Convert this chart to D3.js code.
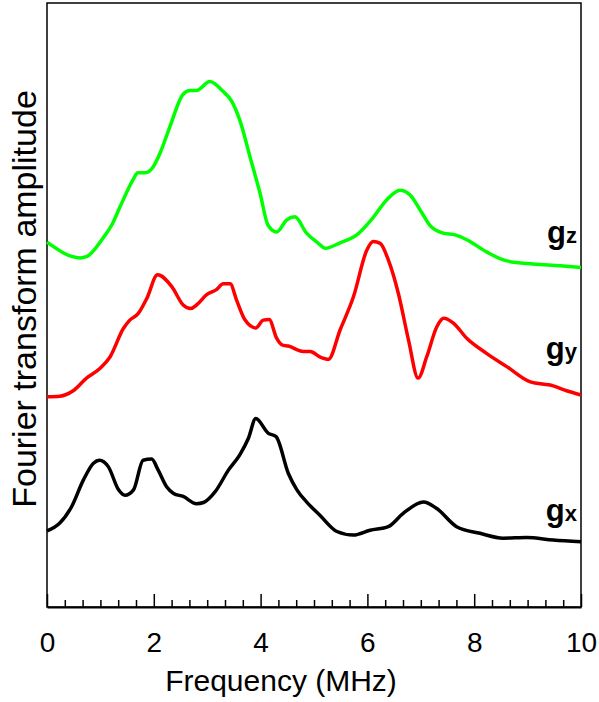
<!DOCTYPE html>
<html>
<head>
<meta charset="utf-8">
<script src="https://cdn.jsdelivr.net/npm/d3@7"></script>
<style>
  body { margin: 0; background: white; }
  svg { display: block; }
  text { font-family: "Liberation Sans", Arial, sans-serif; fill: black; }
</style>
</head>
<body>
<svg id="chart" width="599" height="702"></svg>
<script>
// frequency (MHz), amplitude (arb. units)
const gzData = [
  [0, 60.4], [0.62, 57.8], [0.74, 58.0], [1.05, 61.1], [1.21, 63.2], [1.37, 66.3],
  [1.61, 70.7], [1.70, 71.9], [1.84, 71.9], [1.99, 72.9], [2.12, 75.2], [2.30, 79.5],
  [2.55, 84.9], [2.68, 85.5], [2.80, 85.5], [3.05, 87.0], [3.27, 85.6], [3.46, 83.7],
  [3.61, 80.6], [3.80, 74.6], [3.99, 68.5], [4.14, 63.2], [4.30, 62.1], [4.49, 64.1],
  [4.64, 64.6], [4.86, 61.9], [5.07, 60.3], [5.21, 59.4], [5.49, 60.3], [5.80, 61.6],
  [6.10, 64.4], [6.36, 67.4], [6.61, 69.0], [6.80, 68.2], [6.99, 65.7], [7.17, 63.2],
  [7.42, 61.9], [7.64, 61.6], [7.86, 60.8], [8.23, 58.8], [8.61, 57.3], [9.10, 56.8],
  [9.61, 56.5], [10, 56.2]
];

const gyData = [
  [0, 34.8], [0.24, 34.9], [0.49, 35.8], [0.74, 37.9], [0.99, 39.5], [1.18, 41.4],
  [1.43, 46.1], [1.55, 47.5], [1.71, 48.6], [1.87, 51.1], [2.07, 55.0], [2.34, 53.0],
  [2.55, 50.0], [2.69, 49.4], [2.80, 50.0], [2.99, 51.7], [3.18, 52.6], [3.30, 53.5],
  [3.43, 53.5], [3.55, 50.8], [3.71, 47.5], [3.91, 46.2], [4.05, 47.5], [4.16, 47.6],
  [4.30, 44.5], [4.40, 43.4], [4.52, 43.2], [4.80, 42.3], [4.93, 42.3], [5.11, 41.4],
  [5.27, 41.0], [5.49, 45.9], [5.74, 51.4], [5.99, 59.1], [6.11, 60.5], [6.24, 60.2],
  [6.39, 57.5], [6.58, 51.9], [6.77, 44.2], [6.95, 37.9], [7.11, 41.4], [7.30, 46.4],
  [7.43, 47.8], [7.61, 47.0], [7.86, 44.5], [8.23, 42.0], [8.61, 39.8], [9.04, 37.3],
  [9.48, 36.6], [9.73, 35.8], [10, 35.1]
];

const gxData = [
  [0, 12.6], [0.24, 13.9], [0.46, 16.6], [0.68, 21.0], [0.87, 23.8], [0.98, 24.3],
  [1.15, 23.2], [1.34, 19.4], [1.46, 18.5], [1.62, 19.4], [1.80, 24.3], [1.96, 24.5],
  [2.08, 22.7], [2.24, 19.9], [2.37, 18.8], [2.55, 18.3], [2.80, 17.1], [2.93, 17.3],
  [3.15, 19.1], [3.40, 22.7], [3.61, 25.2], [3.77, 27.9], [3.91, 31.2], [4.14, 28.8],
  [4.29, 28.2], [4.52, 22.1], [4.68, 19.4], [4.86, 17.4], [5.11, 15.2], [5.43, 12.5],
  [5.74, 11.9], [6.05, 12.7], [6.39, 13.3], [6.67, 15.5], [7.05, 17.4], [7.30, 16.3],
  [7.67, 13.3], [8.11, 12.2], [8.54, 11.4], [8.98, 11.5], [9.48, 11.1], [10, 10.8]
];

const majorTicks = [0, 2, 4, 6, 8, 10];
const seriesNames = ['z', 'y', 'x'];
const seriesColors = ['#00ff00', '#ff0000', '#000000'];
const labelAmps = [60.2, 41.0, 14.2];

const margin = { top: 3, right: 18, bottom: 95, left: 47 };
const width = 599 - margin.left - margin.right;
const height = 702 - margin.top - margin.bottom;

const svg = d3.select('#chart');
const g = svg.append('g')
    .attr('transform', `translate(${margin.left}, ${margin.top})`);

const x = d3.scaleLinear()
    .domain([0, 10])
    .range([0, width]);

const y = d3.scaleLinear()
    .domain([0, 100])
    .range([height, 0]);

// frame
g.append('rect')
    .attr('width', width)
    .attr('height', height)
    .attr('fill', 'none')
    .attr('stroke', 'black')
    .attr('stroke-width', 1.5);

// minor ticks every 1/3 MHz
const minorTicks = d3.range(0, 31)
    .map(i => i / 3)
    .filter(v => Math.abs(v - Math.round(v / 2) * 2) > 0.01);

g.append('g')
    .attr('class', 'x minor')
    .attr('transform', `translate(0, ${height})`)
    .call(d3.axisBottom(x).tickValues(minorTicks).tickSizeInner(-7).tickSizeOuter(0).tickFormat(''))
    .call(a => a.select('.domain').remove())
    .call(a => a.selectAll('line').attr('stroke-width', 1.5));

g.append('g')
    .attr('class', 'x axis')
    .attr('transform', `translate(0, ${height})`)
    .call(d3.axisBottom(x).tickValues(majorTicks).tickSizeInner(-13).tickSizeOuter(0).tickPadding(25))
    .call(a => a.select('.domain').attr('stroke-width', 2))
    .call(a => a.selectAll('line').attr('stroke-width', 1.5))
    .call(a => a.selectAll('text')
        .attr('font-size', 28)
        .attr('font-family', '"Liberation Sans", Arial, sans-serif')
        .attr('fill', 'black'));

// curves
const line = d3.line()
    .x(d => x(d[0]))
    .y(d => y(d[1]))
    .curve(d3.curveMonotoneX);

const allSeries = [gzData, gyData, gxData];

g.append('g')
    .attr('class', 'curves')
    .selectAll('path')
    .data(allSeries)
    .join('path')
      .attr('d', line)
      .attr('fill', 'none')
      .attr('stroke', (d, i) => seriesColors[i])
      .attr('stroke-width', 3.5)
      .attr('stroke-linejoin', 'round');

// series labels
const labels = g.append('g')
    .attr('class', 'labels')
    .selectAll('text')
    .data(seriesNames)
    .join('text')
      .attr('x', width - 4)
      .attr('y', (d, i) => y(labelAmps[i]))
      .attr('text-anchor', 'end');

labels.append('tspan')
    .attr('font-size', 31)
    .attr('font-weight', 'bold')
    .text('g');

labels.append('tspan')
    .attr('font-size', 22)
    .attr('font-weight', 'bold')
    .text(d => d);

// axis titles
g.append('text')
    .attr('x', 281 - margin.left)
    .attr('y', 691 - margin.top)
    .attr('text-anchor', 'middle')
    .attr('font-size', 30)
    .text('Frequency (MHz)');

g.append('text')
    .attr('transform', `translate(${36 - margin.left}, ${299 - margin.top}) rotate(-90)`)
    .attr('text-anchor', 'middle')
    .attr('font-size', 34)
    .text('Fourier transform amplitude');
</script>
</body>
</html>
